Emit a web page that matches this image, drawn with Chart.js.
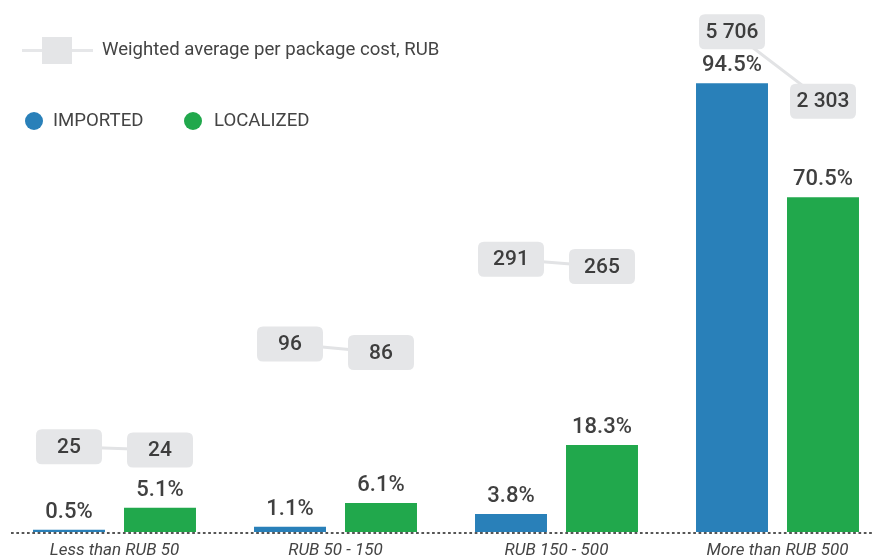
<!DOCTYPE html>
<html>
<head>
<meta charset="utf-8">
<script src="https://cdn.jsdelivr.net/npm/chart.js@4"></script>
<style>
  html, body { margin: 0; padding: 0; background: #fff; overflow: hidden; }
  #wrap { position: relative; width: 892px; height: 560px; }
  canvas { position: absolute; left: 0; top: 0; }
  .legend { position: absolute; font-family: Roboto, sans-serif; font-size: 18.6px; color: #444; white-space: nowrap; }
  .legend .txt { position: absolute; top: 0; line-height: 22px; }
  .sym-line { position: absolute; height: 3px; background: #e6e7e9; }
  .sym-box { position: absolute; width: 30px; height: 27px; background: #e4e5e7; }
  .dot { position: absolute; width: 18px; height: 18px; border-radius: 50%; }
</style>
</head>
<body>
<div id="wrap">
  <canvas id="chart" width="892" height="560"></canvas>
  <div class="legend" style="left:0; top:0; width:480px; height:140px;">
    <div class="sym-line" style="left:22px; top:49px; width:71px;"></div>
    <div class="sym-box" style="left:42px; top:37px;"></div>
    <div class="txt" style="left:102px; top:38px;">Weighted average per package cost, RUB</div>
    <div class="dot" style="left:25px; top:112px; background:#2980b9;"></div>
    <div class="txt" style="left:53px; top:109px;">IMPORTED</div>
    <div class="dot" style="left:184px; top:112px; background:#21a84c;"></div>
    <div class="txt" style="left:214px; top:109px;">LOCALIZED</div>
  </div>
</div>
<script>
// Share of packages by price band, %
const categories = ['Less than RUB 50', 'RUB 50 - 150', 'RUB 150 - 500', 'More than RUB 500'];
const importedShare = [0.5, 1.1, 3.8, 94.5];
const localizedShare = [5.1, 6.1, 18.3, 70.5];

// Weighted average per package cost, RUB
const importedCost = [25, 96, 291, 5706];
const localizedCost = [24, 86, 265, 2303];

const BLUE = '#2980b9';
const GREEN = '#21a84c';
const CAT_PCT = 0.8235;
const BAR_PCT = 0.791;

// Bars sit on a linear index axis (one unit per price band) so the cost line
// can share it and hit the centre of each bar.
const toPoints = arr => arr.map((v, i) => ({ x: i, y: v }));

const half = CAT_PCT / 4;
const costPoints = [];
categories.forEach((c, i) => {
  costPoints.push({ x: i - half, y: importedCost[i] });
  costPoints.push({ x: i + half, y: localizedCost[i] });
  if (i < categories.length - 1) costPoints.push({ x: i + 0.5, y: null });
});

const fmtCost = v => String(v).replace(/\B(?=(\d{3})+(?!\d))/g, ' ');

function roundRect(ctx, x, y, w, h, r) {
  ctx.beginPath();
  ctx.moveTo(x + r, y);
  ctx.lineTo(x + w - r, y);
  ctx.quadraticCurveTo(x + w, y, x + w, y + r);
  ctx.lineTo(x + w, y + h - r);
  ctx.quadraticCurveTo(x + w, y + h, x + w - r, y + h);
  ctx.lineTo(x + r, y + h);
  ctx.quadraticCurveTo(x, y + h, x, y + h - r);
  ctx.lineTo(x, y + r);
  ctx.quadraticCurveTo(x, y, x + r, y);
  ctx.closePath();
}

const labelsPlugin = {
  id: 'valueLabels',
  afterDatasetsDraw(chart) {
    const ctx = chart.ctx;
    const area = chart.chartArea;
    ctx.save();

    // dotted baseline
    ctx.strokeStyle = '#555';
    ctx.lineWidth = 2;
    ctx.setLineDash([2.7, 2.63]);
    ctx.beginPath();
    ctx.moveTo(11, area.bottom + 1);
    ctx.lineTo(chart.width, area.bottom + 1);
    ctx.stroke();
    ctx.setLineDash([]);

    // percentage above each bar
    ctx.font = '500 22px Roboto';
    ctx.fillStyle = '#404040';
    ctx.textAlign = 'center';
    ctx.textBaseline = 'alphabetic';
    [0, 1].forEach(di => {
      const meta = chart.getDatasetMeta(di);
      const data = chart.data.datasets[di].data;
      meta.data.forEach((bar, i) => {
        ctx.fillText(data[i].y.toFixed(1) + '%', bar.x, bar.y - 12);
      });
    });

    // cost boxes on the line points
    const meta = chart.getDatasetMeta(2);
    const data = chart.data.datasets[2].data;
    ctx.font = '500 21px Roboto';
    ctx.textBaseline = 'middle';
    meta.data.forEach((pt, i) => {
      const v = data[i].y;
      if (v === null) return;
      const w = 66, h = 35;
      roundRect(ctx, pt.x - w / 2, pt.y - h / 2, w, h, 6);
      ctx.fillStyle = '#e5e6e8';
      ctx.fill();
      ctx.fillStyle = '#3d3d3d';
      ctx.fillText(fmtCost(v), pt.x, pt.y + 1);
    });
    ctx.restore();
  }
};

new Chart(document.getElementById('chart'), {
  type: 'bar',
  data: {
    datasets: [
      {
        label: 'IMPORTED',
        data: toPoints(importedShare),
        backgroundColor: BLUE,
        categoryPercentage: CAT_PCT,
        barPercentage: BAR_PCT,
        yAxisID: 'y',
        order: 2
      },
      {
        label: 'LOCALIZED',
        data: toPoints(localizedShare),
        backgroundColor: GREEN,
        categoryPercentage: CAT_PCT,
        barPercentage: BAR_PCT,
        yAxisID: 'y',
        order: 2
      },
      {
        type: 'line',
        label: 'Weighted average per package cost, RUB',
        data: costPoints,
        yAxisID: 'yc',
        borderColor: '#e2e3e5',
        borderWidth: 3,
        pointRadius: 0,
        tension: 0,
        spanGaps: false,
        fill: false,
        order: 1
      }
    ]
  },
  options: {
    responsive: false,
    devicePixelRatio: 1,
    animation: false,
    layout: { padding: { left: 4, right: 4, top: 0, bottom: 0 } },
    plugins: {
      legend: { display: false },
      tooltip: { enabled: false }
    },
    scales: {
      x: {
        type: 'linear',
        offset: false,
        min: -0.5,
        max: categories.length - 0.5,
        grid: { display: false, drawTicks: false, offset: false },
        border: { display: false },
        afterBuildTicks(scale) {
          scale.ticks = categories.map((c, i) => ({ value: i }));
        },
        ticks: {
          callback: v => categories[v],
          color: '#444',
          font: { family: 'Roboto', size: 17, style: 'italic' },
          padding: 9,
          maxRotation: 0,
          autoSkip: false
        },
        afterFit(scale) {
          scale.height = 28;
          scale.paddingLeft = 0;
          scale.paddingRight = 0;
        }
      },
      y: {
        type: 'linear',
        display: false,
        min: 0,
        max: 112
      },
      yc: {
        type: 'logarithmic',
        display: false,
        min: 8.2,
        max: 8650
      }
    }
  },
  plugins: [labelsPlugin]
});
</script>
</body>
</html>
